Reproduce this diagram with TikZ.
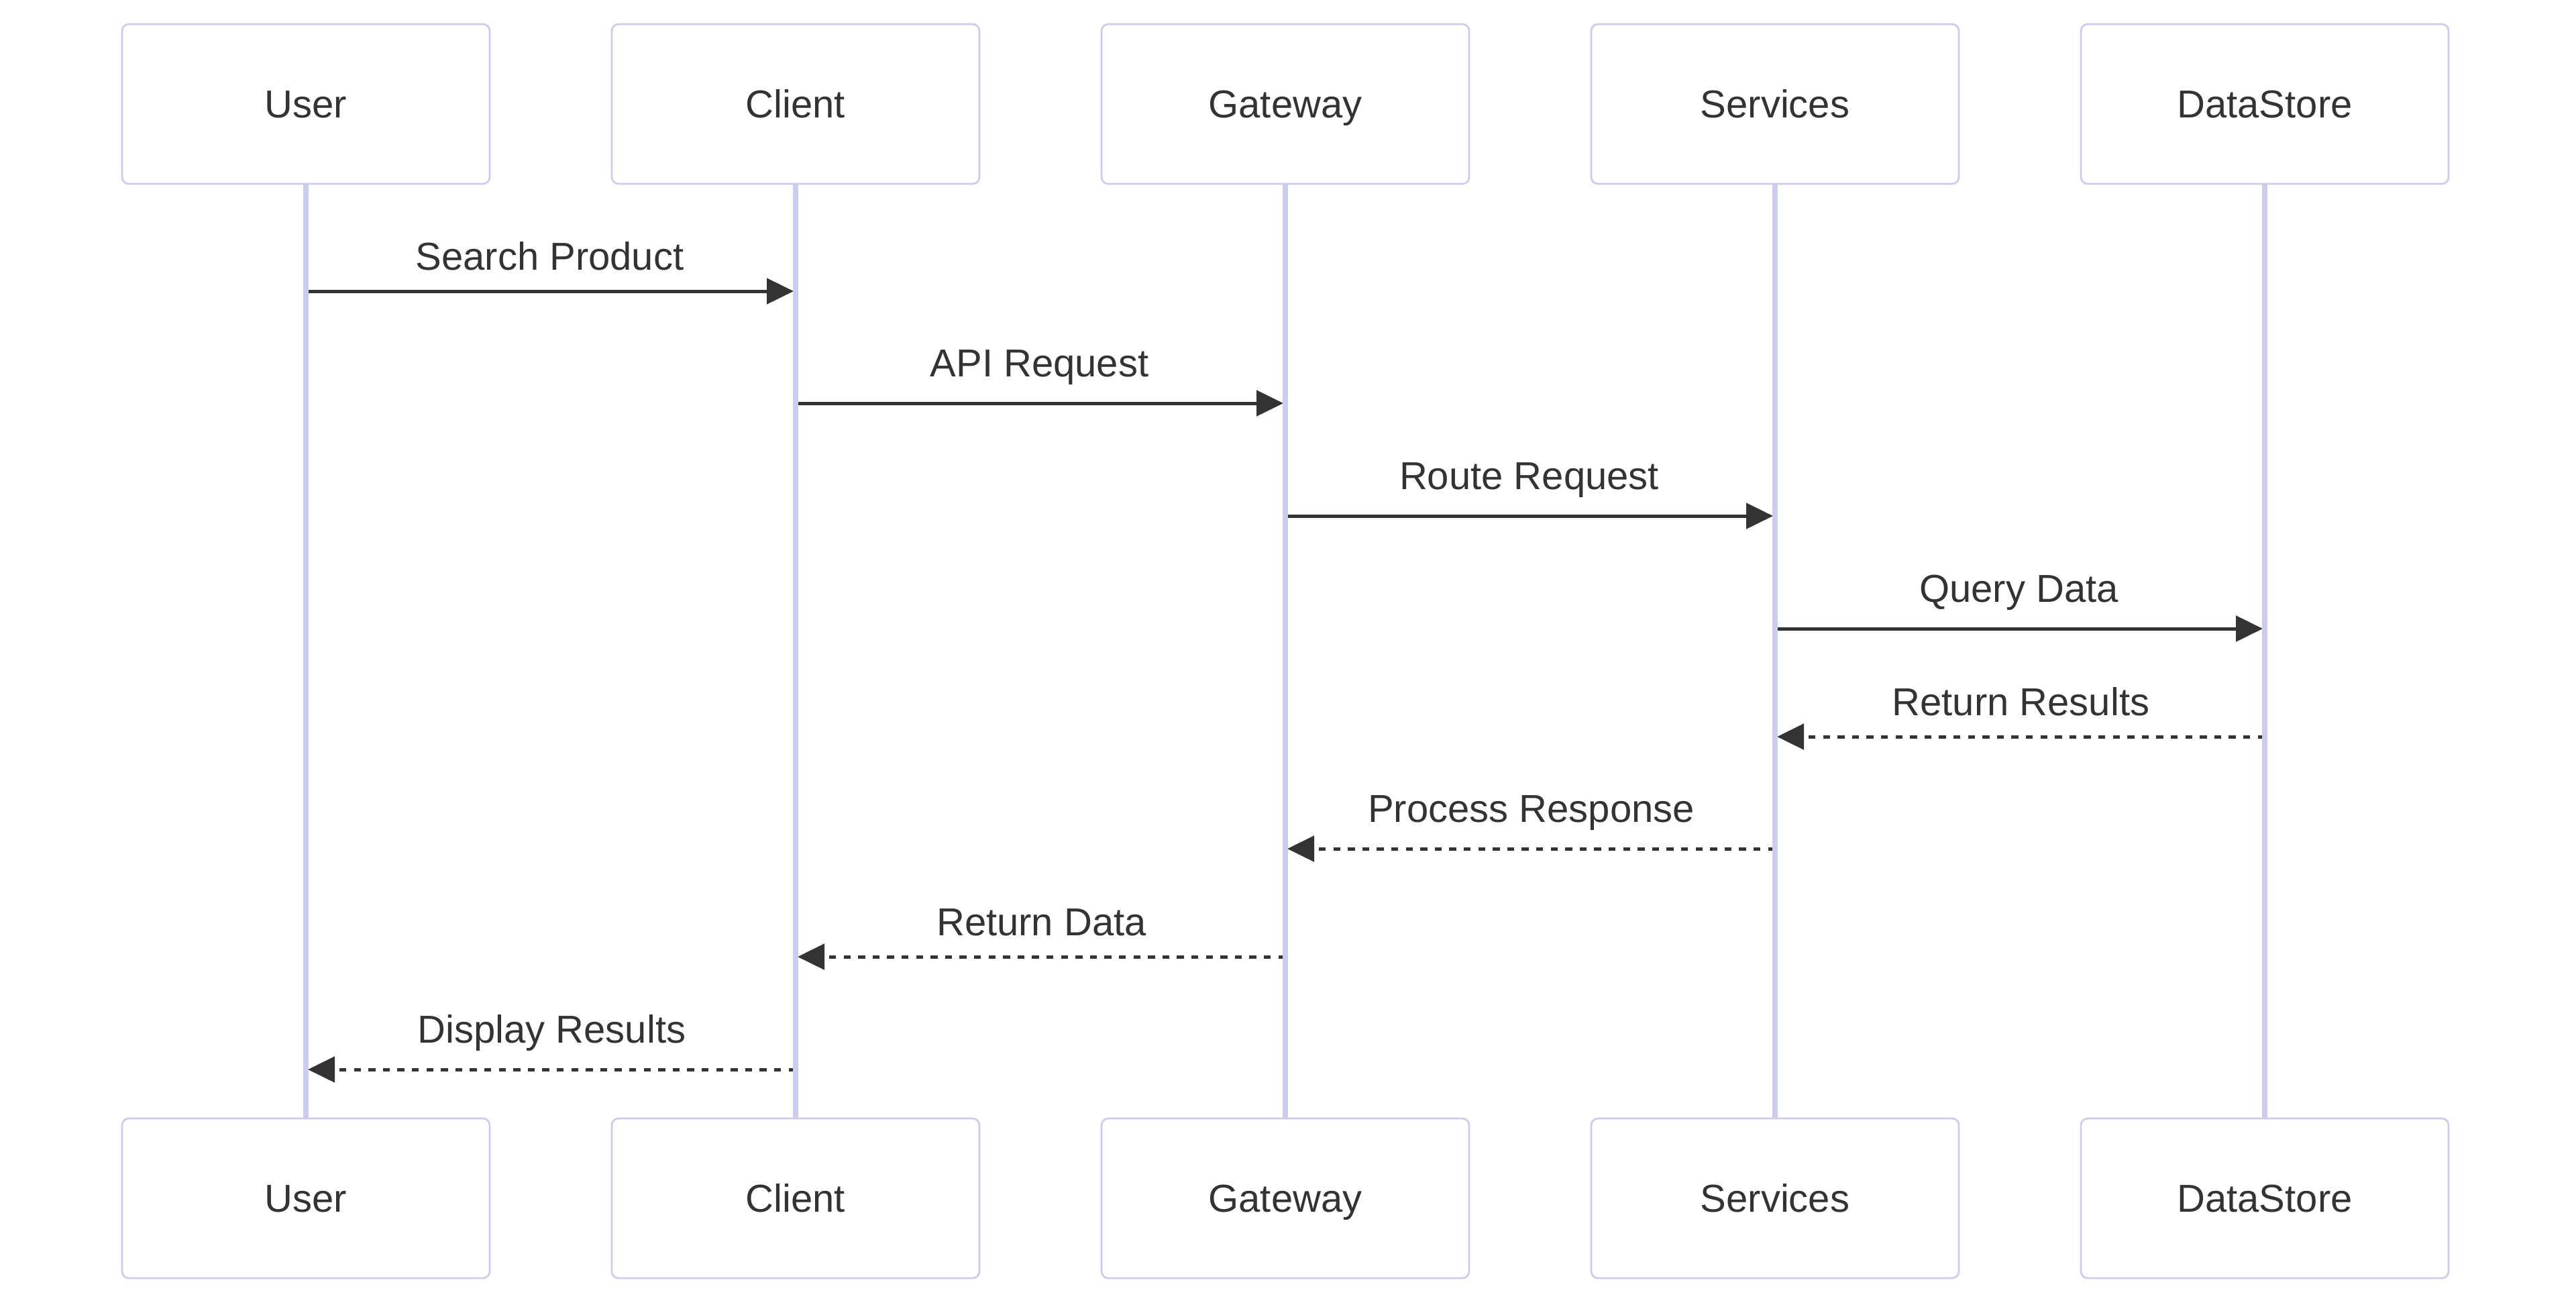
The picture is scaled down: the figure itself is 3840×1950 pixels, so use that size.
\documentclass[tikz,border=0pt]{standalone}
\usepackage{fontspec}
\setmainfont{Liberation Sans}
\usetikzlibrary{arrows.meta,calc}
\definecolor{lifeline}{RGB}{204,204,238}
\definecolor{ink}{RGB}{51,51,51}
\begin{document}
\begin{tikzpicture}[x=0.25pt,y=-0.25pt]
        \tikzset{actor/.style={draw=lifeline,line width=0.7pt,rounded corners=2.5pt,fill=white,minimum width=137pt,minimum height=59.5pt,inner sep=0pt,text height=10.4pt,text depth=0pt,text=ink,font=\fontsize{14.5}{17}\selectfont},
            life/.style={draw=lifeline,line width=1.8pt},
            msg/.style={draw=ink,line width=1.25pt,-{Triangle[length=10pt,width=9.5pt]}},
            reply/.style={msg,dash pattern=on 2.6pt off 2.8pt},
            lbl/.style={anchor=base,yshift=10pt,text=ink,font=\fontsize{14.5}{17}\selectfont},
            lowlbl/.style={lbl,yshift=-2pt}};
        \useasboundingbox (0,0) rectangle (3840,1950);
        % actors, top and bottom
        \node[actor] (userT) at (456,155) {User};
        \node[actor] (clientT) at (1186,155) {Client};
        \node[actor] (gatewayT) at (1916,155) {Gateway};
        \node[actor] (servicesT) at (2646,155) {Services};
        \node[actor] (storeT) at (3376,155) {DataStore};
        \node[actor] (userB) at (456,1786) {User};
        \node[actor] (clientB) at (1186,1786) {Client};
        \node[actor] (gatewayB) at (1916,1786) {Gateway};
        \node[actor] (servicesB) at (2646,1786) {Services};
        \node[actor] (storeB) at (3376,1786) {DataStore};
        % message rows
        \coordinate (r1) at (0,434);
        \coordinate (r2) at (0,601);
        \coordinate (r3) at (0,769);
        \coordinate (r4) at (0,937);
        \coordinate (r5) at (0,1098);
        \coordinate (r6) at (0,1265);
        \coordinate (r7) at (0,1426);
        \coordinate (r8) at (0,1594);
        \draw[msg] (userT |- r1) -- ($(clientT |- r1)+(-3,0)$) node[lowlbl,midway] {Search Product};
        \draw[msg] (clientT |- r2) -- ($(gatewayT |- r2)+(-3,0)$) node[lbl,midway] {API Request};
        \draw[msg] (gatewayT |- r3) -- ($(servicesT |- r3)+(-3,0)$) node[lbl,midway] {Route Request};
        \draw[msg] (servicesT |- r4) -- ($(storeT |- r4)+(-3,0)$) node[lbl,midway] {Query Data};
        \draw[reply] (storeT |- r5) -- ($(servicesT |- r5)+(3,0)$) node[lowlbl,midway] {Return Results};
        \draw[reply] (servicesT |- r6) -- ($(gatewayT |- r6)+(3,0)$) node[lbl,midway] {Process Response};
        \draw[reply] (gatewayT |- r7) -- ($(clientT |- r7)+(3,0)$) node[lowlbl,midway] {Return Data};
        \draw[reply] (clientT |- r8) -- ($(userT |- r8)+(3,0)$) node[lbl,midway] {Display Results};
        % lifelines
        \draw[life] (userT.south) -- (userB.north);
        \draw[life] (clientT.south) -- (clientB.north);
        \draw[life] (gatewayT.south) -- (gatewayB.north);
        \draw[life] (servicesT.south) -- (servicesB.north);
        \draw[life] (storeT.south) -- (storeB.north);
    \end{tikzpicture}
\end{document}
